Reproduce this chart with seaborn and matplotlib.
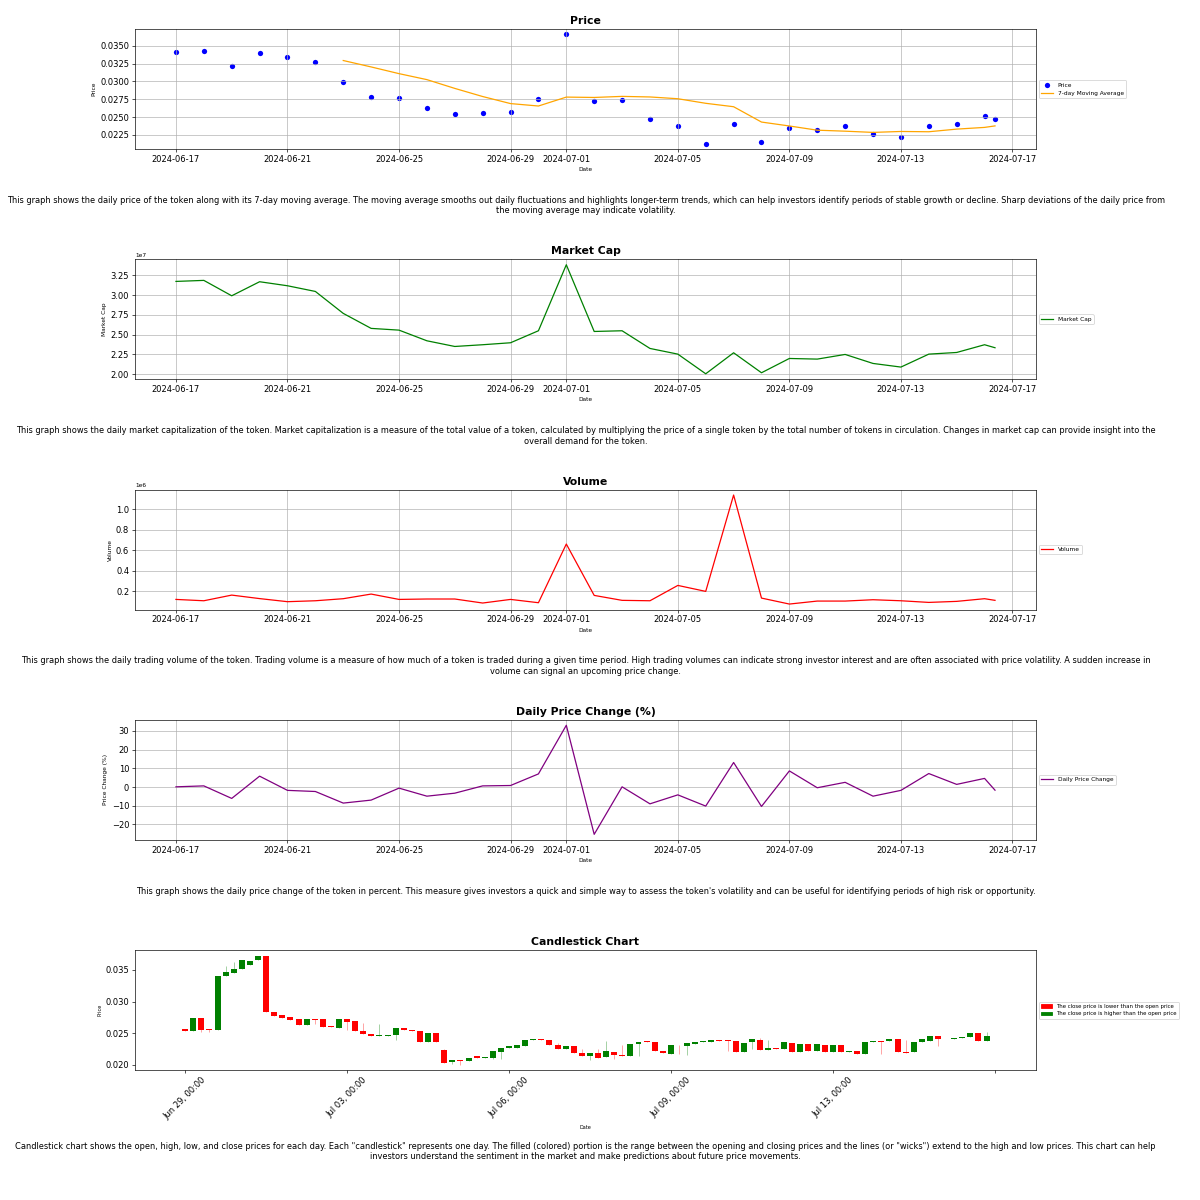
import matplotlib
matplotlib.use('Agg')
import matplotlib.pyplot as plt
from matplotlib.patches import Patch
import seaborn as sns
import numpy as np
import pandas as pd

# daily data (last point is the intraday value of 07-16)
dates = list(pd.date_range('2024-06-17', '2024-07-16', freq='D')) + [pd.Timestamp('2024-07-16 09:00')]

price = [0.03407, 0.03426, 0.03212, 0.03402, 0.03347, 0.03268, 0.02989, 0.02780,
         0.02766, 0.02626, 0.02538, 0.02552, 0.02575, 0.02747, 0.03658, 0.02729,
         0.02733, 0.02478, 0.02380, 0.02129, 0.02408, 0.02152, 0.02343, 0.02324,
         0.02380, 0.02259, 0.02222, 0.02380, 0.02408, 0.02515, 0.02468]

moving_avg = [None, None, None, None, None, None, 0.03293, 0.03203,
              0.03109, 0.03025, 0.02902, 0.02788, 0.02689, 0.02655, 0.02780, 0.02775,
              0.02790, 0.02782, 0.02757, 0.02693, 0.02645, 0.02430, 0.02375, 0.02316,
              0.02302, 0.02285, 0.02298, 0.02294, 0.02331, 0.02355, 0.02376]

market_cap = [3.174e7, 3.187e7, 2.992e7, 3.170e7, 3.119e7, 3.047e7, 2.769e7, 2.579e7,
              2.557e7, 2.422e7, 2.350e7, 2.372e7, 2.397e7, 2.549e7, 3.385e7, 2.540e7,
              2.549e7, 2.325e7, 2.253e7, 2.004e7, 2.270e7, 2.017e7, 2.198e7, 2.190e7,
              2.249e7, 2.135e7, 2.089e7, 2.253e7, 2.274e7, 2.372e7, 2.334e7]

volume = [0.122e6, 0.109e6, 0.164e6, 0.130e6, 0.100e6, 0.109e6, 0.129e6, 0.174e6,
          0.122e6, 0.126e6, 0.126e6, 0.087e6, 0.122e6, 0.090e6, 0.660e6, 0.161e6,
          0.113e6, 0.109e6, 0.258e6, 0.200e6, 1.136e6, 0.135e6, 0.077e6, 0.106e6,
          0.106e6, 0.119e6, 0.109e6, 0.093e6, 0.103e6, 0.129e6, 0.113e6]

price_change = [0.1, 0.6, -6.1, 5.8, -1.8, -2.4, -8.6, -7.0,
                -0.6, -4.9, -3.3, 0.6, 0.8, 7.0, 33.0, -25.3,
                0.1, -9.0, -4.2, -10.2, 13.1, -10.4, 8.6, -0.4,
                2.5, -4.9, -1.8, 7.2, 1.4, 4.6, -1.7]

# candlestick data
opens = [0.02574, 0.02532, 0.02742, 0.02563, 0.02547, 0.03400, 0.03453, 0.03511, 0.03568, 0.03647,
         0.03721, 0.02842, 0.02784, 0.02753, 0.02721, 0.02637, 0.02726, 0.02721, 0.02611, 0.02589,
         0.02721, 0.02690, 0.02537, 0.02489, 0.02458, 0.02463, 0.02474, 0.02584, 0.02558, 0.02537,
         0.02368, 0.02505, 0.02242, 0.02047, 0.02074, 0.02068, 0.02137, 0.02116, 0.02105, 0.02211,
         0.02274, 0.02274, 0.02295, 0.02395, 0.02405, 0.02400, 0.02321, 0.02258, 0.02305, 0.02184,
         0.02142, 0.02189, 0.02126, 0.02205, 0.02158, 0.02137, 0.02332, 0.02379, 0.02358, 0.02221,
         0.02179, 0.02321, 0.02305, 0.02337, 0.02358, 0.02358, 0.02389, 0.02389, 0.02379, 0.02205,
         0.02363, 0.02389, 0.02237, 0.02268, 0.02247, 0.02353, 0.02200, 0.02337, 0.02226, 0.02321,
         0.02200, 0.02311, 0.02211, 0.02226, 0.02179, 0.02363, 0.02379, 0.02379, 0.02405, 0.02211,
         0.02200, 0.02368, 0.02379, 0.02463, 0.02405, 0.02411, 0.02421, 0.02447, 0.02505, 0.02379]

highs = [0.02574, 0.02742, 0.02742, 0.02563, 0.03400, 0.03553, 0.03616, 0.03653, 0.03637, 0.03721,
         0.03721, 0.02842, 0.02784, 0.02753, 0.02721, 0.02721, 0.02726, 0.02721, 0.02611, 0.02721,
         0.02721, 0.02690, 0.02668, 0.02489, 0.02642, 0.02474, 0.02584, 0.02584, 0.02558, 0.02537,
         0.02505, 0.02505, 0.02258, 0.02074, 0.02074, 0.02116, 0.02137, 0.02126, 0.02226, 0.02274,
         0.02295, 0.02321, 0.02400, 0.02411, 0.02405, 0.02400, 0.02353, 0.02295, 0.02305, 0.02258,
         0.02189, 0.02247, 0.02374, 0.02205, 0.02311, 0.02337, 0.02358, 0.02379, 0.02358, 0.02221,
         0.02311, 0.02321, 0.02347, 0.02363, 0.02374, 0.02389, 0.02389, 0.02389, 0.02379, 0.02353,
         0.02405, 0.02432, 0.02389, 0.02268, 0.02363, 0.02353, 0.02332, 0.02337, 0.02332, 0.02321,
         0.02311, 0.02311, 0.02221, 0.02226, 0.02363, 0.02379, 0.02379, 0.02411, 0.02405, 0.02400,
         0.02363, 0.02405, 0.02463, 0.02463, 0.02416, 0.02421, 0.02447, 0.02500, 0.02505, 0.02516]

lows = [0.02542, 0.02532, 0.02516, 0.02516, 0.02547, 0.03400, 0.03453, 0.03511, 0.03568, 0.03647,
        0.02842, 0.02779, 0.02747, 0.02711, 0.02637, 0.02637, 0.02653, 0.02605, 0.02600, 0.02589,
        0.02558, 0.02532, 0.02489, 0.02458, 0.02458, 0.02463, 0.02400, 0.02547, 0.02532, 0.02368,
        0.02368, 0.02368, 0.02037, 0.02011, 0.01995, 0.02068, 0.02116, 0.02116, 0.02095, 0.02095,
        0.02274, 0.02274, 0.02295, 0.02395, 0.02389, 0.02316, 0.02258, 0.02258, 0.02184, 0.02142,
        0.02074, 0.02116, 0.02126, 0.02100, 0.02137, 0.02137, 0.02137, 0.02363, 0.02216, 0.02195,
        0.02179, 0.02168, 0.02153, 0.02337, 0.02358, 0.02358, 0.02379, 0.02216, 0.02205, 0.02205,
        0.02253, 0.02232, 0.02237, 0.02247, 0.02247, 0.02200, 0.02200, 0.02221, 0.02226, 0.02205,
        0.02200, 0.02200, 0.02211, 0.02179, 0.02179, 0.02363, 0.02179, 0.02379, 0.02200, 0.02189,
        0.02200, 0.02368, 0.02379, 0.02305, 0.02405, 0.02411, 0.02421, 0.02447, 0.02379, 0.02379]

closes = [0.02542, 0.02742, 0.02558, 0.02547, 0.03400, 0.03458, 0.03511, 0.03653, 0.03637, 0.03721,
          0.02842, 0.02779, 0.02747, 0.02711, 0.02637, 0.02721, 0.02711, 0.02605, 0.02600, 0.02721,
          0.02679, 0.02532, 0.02489, 0.02458, 0.02468, 0.02474, 0.02584, 0.02547, 0.02532, 0.02368,
          0.02505, 0.02368, 0.02037, 0.02074, 0.02058, 0.02116, 0.02116, 0.02126, 0.02226, 0.02274,
          0.02295, 0.02321, 0.02400, 0.02411, 0.02389, 0.02316, 0.02258, 0.02295, 0.02184, 0.02142,
          0.02189, 0.02116, 0.02216, 0.02163, 0.02137, 0.02337, 0.02358, 0.02363, 0.02216, 0.02195,
          0.02311, 0.02316, 0.02347, 0.02363, 0.02374, 0.02389, 0.02379, 0.02379, 0.02205, 0.02353,
          0.02405, 0.02232, 0.02263, 0.02247, 0.02363, 0.02200, 0.02332, 0.02221, 0.02332, 0.02205,
          0.02311, 0.02200, 0.02221, 0.02179, 0.02363, 0.02379, 0.02368, 0.02411, 0.02200, 0.02189,
          0.02363, 0.02405, 0.02463, 0.02405, 0.02416, 0.02421, 0.02447, 0.02500, 0.02379, 0.02463]

candle_tick_labels = ['Jun 29, 00:00', 'Jul 03, 00:00', 'Jul 06, 00:00', 'Jul 09, 00:00', 'Jul 13, 00:00', '']

descriptions = [
    "This graph shows the daily price of the token along with its 7-day moving average. The moving average smooths out daily fluctuations and highlights longer-term trends, which can help investors identify periods of stable growth or decline. Sharp deviations of the daily price from\nthe moving average may indicate volatility.",
    "This graph shows the daily market capitalization of the token. Market capitalization is a measure of the total value of a token, calculated by multiplying the price of a single token by the total number of tokens in circulation. Changes in market cap can provide insight into the\noverall demand for the token.",
    "This graph shows the daily trading volume of the token. Trading volume is a measure of how much of a token is traded during a given time period. High trading volumes can indicate strong investor interest and are often associated with price volatility. A sudden increase in\nvolume can signal an upcoming price change.",
    "This graph shows the daily price change of the token in percent. This measure gives investors a quick and simple way to assess the token's volatility and can be useful for identifying periods of high risk or opportunity.",
    "Candlestick chart shows the open, high, low, and close prices for each day. Each \"candlestick\" represents one day. The filled (colored) portion is the range between the opening and closing prices and the lines (or \"wicks\") extend to the high and low prices. This chart can help\ninvestors understand the sentiment in the market and make predictions about future price movements.",
]
desc_y = [0.8288, 0.6367, 0.445, 0.2575, 0.0404]

df = pd.DataFrame({'Date': dates, 'Price': price, 'MA': moving_avg,
                   'Market Cap': market_cap, 'Volume': volume, 'Change': price_change})
df['MA'] = df['MA'].astype(float)

fig, axes = plt.subplots(5, 1, figsize=(20, 20))
fig.subplots_adjust(left=0.1125, right=0.8633, top=0.9758, bottom=0.1083, hspace=0.92)

def style_ax(ax, title, ylabel):
    ax.set_title(title, fontsize=13, fontweight='bold')
    ax.set_xlabel('Date', fontsize=7)
    ax.set_ylabel(ylabel, fontsize=7)
    ax.tick_params(labelsize=10)
    ax.yaxis.get_offset_text().set_fontsize(7)
    ax.grid(True)
    ax.legend(loc='center left', bbox_to_anchor=(1, 0.5), fontsize=7)

ax = axes[0]
sns.scatterplot(data=df, x='Date', y='Price', color='blue', linewidth=0, s=40, label='Price', ax=ax)
sns.lineplot(data=df, x='Date', y='MA', color='orange', label='7-day Moving Average', ax=ax)
style_ax(ax, 'Price', 'Price')

ax = axes[1]
sns.lineplot(data=df, x='Date', y='Market Cap', color='green', label='Market Cap', ax=ax)
style_ax(ax, 'Market Cap', 'Market Cap')

ax = axes[2]
sns.lineplot(data=df, x='Date', y='Volume', color='red', label='Volume', ax=ax)
style_ax(ax, 'Volume', 'Volume')

ax = axes[3]
sns.lineplot(data=df, x='Date', y='Change', color='purple', label='Daily Price Change', ax=ax)
style_ax(ax, 'Daily Price Change (%)', 'Price Change (%)')

# candlestick
ax = axes[4]
o = np.array(opens)
c = np.array(closes)
idx = np.arange(len(o))
colors = np.where(c >= o, 'green', 'red')
ax.vlines(idx, lows, highs, colors=colors, alpha=0.35, linewidth=1.2, zorder=1)
ax.bar(idx, c - o, bottom=o, width=0.74, color=colors, zorder=2)
ax.set_xlim(-6.2, 105.1)
ax.set_ylim(0.0192, 0.0381)
ax.set_xticks(np.arange(0, 101, 20))
ax.set_xticklabels(candle_tick_labels, rotation=45, fontsize=10)
ax.tick_params(axis='y', labelsize=10)
ax.set_title('Candlestick Chart', fontsize=13, fontweight='bold')
ax.set_xlabel('Date', fontsize=6)
ax.set_ylabel('Price', fontsize=6)
handles = [Patch(color='red', label='The close price is lower than the open price'),
           Patch(color='green', label='The close price is higher than the open price')]
ax.legend(handles=handles, loc='center left', bbox_to_anchor=(1, 0.5), fontsize=6.5)

for text, y in zip(descriptions, desc_y):
    fig.text(0.488, y, text, ha='center', va='center', fontsize=9.9)

fig.savefig('out.png', dpi=60)
